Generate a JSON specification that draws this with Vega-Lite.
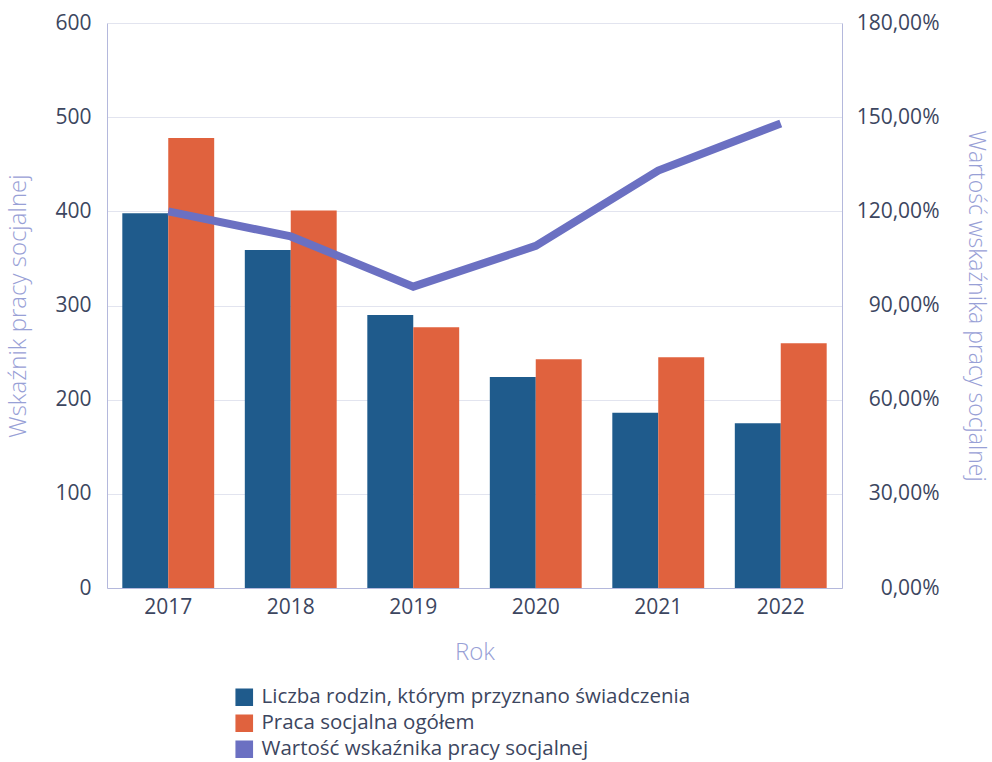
{
  "$schema": "https://vega.github.io/schema/vega-lite/v6.json",
  "autosize": "none",
  "padding": {"left": 107, "top": 23, "right": 150, "bottom": 174},
  "width": 735,
  "height": 565,
  "background": "white",
  "config": {
    "font": "Open Sans",
    "view": {"stroke": null},
    "locale": {"number": {"decimal": ",", "thousands": " ", "grouping": [3], "currency": ["", " zł"]}},
    "axis": {
      "labelFont": "Open Sans",
      "labelFontSize": 21,
      "labelColor": "#3c4660",
      "titleFont": "Open Sans",
      "titleFontSize": 24,
      "titleFontWeight": 300,
      "titleColor": "#98a0d6",
      "ticks": false,
      "domainColor": "#b4b8dc",
      "gridColor": "#e2e4ef"
    },
    "legend": {"labelFont": "Open Sans", "labelFontSize": 20.5, "labelColor": "#3c4660", "labelLimit": 0}
  },
  "datasets": {
    "bars": [
      {"rok": "2017", "seria": "Liczba rodzin, którym przyznano świadczenia", "wartosc": 398},
      {"rok": "2017", "seria": "Praca socjalna ogółem", "wartosc": 478},
      {"rok": "2018", "seria": "Liczba rodzin, którym przyznano świadczenia", "wartosc": 359},
      {"rok": "2018", "seria": "Praca socjalna ogółem", "wartosc": 401},
      {"rok": "2019", "seria": "Liczba rodzin, którym przyznano świadczenia", "wartosc": 290},
      {"rok": "2019", "seria": "Praca socjalna ogółem", "wartosc": 277},
      {"rok": "2020", "seria": "Liczba rodzin, którym przyznano świadczenia", "wartosc": 224},
      {"rok": "2020", "seria": "Praca socjalna ogółem", "wartosc": 243},
      {"rok": "2021", "seria": "Liczba rodzin, którym przyznano świadczenia", "wartosc": 186},
      {"rok": "2021", "seria": "Praca socjalna ogółem", "wartosc": 245},
      {"rok": "2022", "seria": "Liczba rodzin, którym przyznano świadczenia", "wartosc": 175},
      {"rok": "2022", "seria": "Praca socjalna ogółem", "wartosc": 260}
    ],
    "linia": [
      {"rok": "2017", "seria": "Wartość wskaźnika pracy socjalnej", "wskaznik": 1.20},
      {"rok": "2018", "seria": "Wartość wskaźnika pracy socjalnej", "wskaznik": 1.12},
      {"rok": "2019", "seria": "Wartość wskaźnika pracy socjalnej", "wskaznik": 0.96},
      {"rok": "2020", "seria": "Wartość wskaźnika pracy socjalnej", "wskaznik": 1.09},
      {"rok": "2021", "seria": "Wartość wskaźnika pracy socjalnej", "wskaznik": 1.33},
      {"rok": "2022", "seria": "Wartość wskaźnika pracy socjalnej", "wskaznik": 1.48}
    ]
  },
  "encoding": {
    "x": {
      "field": "rok",
      "type": "nominal",
      "scale": {"paddingInner": 0.25, "paddingOuter": 0.125},
      "axis": {"title": "Rok", "labelAngle": 0, "labelPadding": 8, "titlePadding": 23, "domainColor": "#b4b8dc"}
    }
  },
  "layer": [
    {
      "data": {"name": "bars"},
      "mark": {"type": "bar"},
      "encoding": {
        "xOffset": {"field": "seria", "type": "nominal", "sort": ["Liczba rodzin, którym przyznano świadczenia", "Praca socjalna ogółem"]},
        "y": {
          "field": "wartosc",
          "type": "quantitative",
          "scale": {"domain": [0, 600]},
          "axis": {"title": "Wskaźnik pracy socjalnej", "values": [0, 100, 200, 300, 400, 500, 600], "grid": true, "labelPadding": 16, "titlePadding": 24}
        },
        "color": {
          "field": "seria",
          "type": "nominal",
          "scale": {
            "domain": ["Liczba rodzin, którym przyznano świadczenia", "Praca socjalna ogółem", "Wartość wskaźnika pracy socjalnej"],
            "range": ["#1f5b8c", "#e0623e", "#6b70c2"]
          },
          "legend": {
            "title": null,
            "orient": "none",
            "legendX": 127,
            "legendY": 664,
            "direction": "vertical",
            "symbolType": "square",
            "symbolSize": 260,
            "rowPadding": 3,
            "labelOffset": 7
          }
        }
      }
    },
    {
      "data": {"name": "linia"},
      "mark": {"type": "line", "strokeWidth": 8, "strokeCap": "butt"},
      "encoding": {
        "y": {
          "field": "wskaznik",
          "type": "quantitative",
          "scale": {"domain": [0, 1.8]},
          "axis": {"orient": "right", "title": "Wartość wskaźnika pracy socjalnej", "titleFontSize": 23, "format": ".2%", "values": [0, 0.3, 0.6, 0.9, 1.2, 1.5, 1.8], "grid": false, "labelAlign": "right", "labelPadding": 97, "titlePadding": 24}
        },
        "color": {"field": "seria", "type": "nominal"}
      }
    }
  ],
  "resolve": {"scale": {"y": "independent"}}
}
